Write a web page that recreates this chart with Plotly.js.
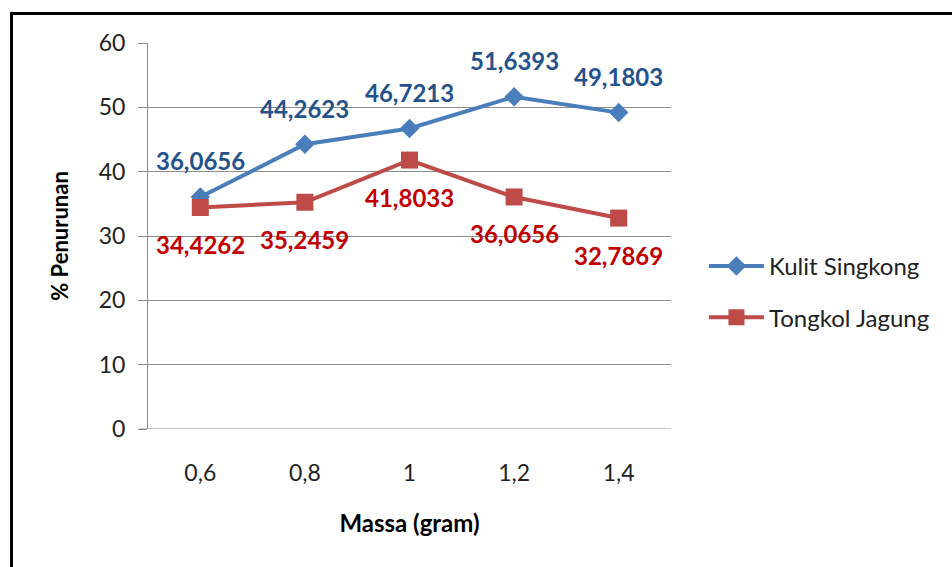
<!DOCTYPE html>
<html>
<head>
<meta charset="utf-8">
<script src="https://cdn.plot.ly/plotly-3.0.1.min.js"></script>
<style>
  html, body { margin: 0; padding: 0; background: #fff; }
  #wrap { position: relative; width: 952px; height: 567px; overflow: hidden; }
  #frame { position: absolute; left: 10px; top: 12px; width: 960px; height: 600px;
           border-left: 3px solid #000; border-top: 3px solid #000; box-sizing: border-box; pointer-events: none; }
  #chart { position: absolute; left: 0; top: 0; width: 952px; height: 567px; }
</style>
</head>
<body>
<div id="wrap">
  <div id="chart"></div>
  <div id="frame"></div>
</div>
<script>
// Mass of adsorbent (gram) and percentage decrease for each material
const massa = ['0,6', '0,8', '1', '1,2', '1,4'];
const kulitSingkong = [36.0656, 44.2623, 46.7213, 51.6393, 49.1803];
const tongkolJagung = [34.4262, 35.2459, 41.8033, 36.0656, 32.7869];
const yTicks = [0, 10, 20, 30, 40, 50, 60];

const FONT = 'Lato, "Open Sans", sans-serif';
const fmt = v => v.toFixed(4).replace('.', ',');

const traces = [
  {
    x: massa, y: kulitSingkong, name: 'Kulit Singkong', type: 'scatter', mode: 'lines+markers',
    line: { color: '#4A7EBB', width: 4 },
    marker: { symbol: 'diamond', size: 15, color: '#4A7EBB' },
    legendgroup: 'a'
  },
  {
    x: massa, y: tongkolJagung, name: 'Tongkol Jagung', type: 'scatter', mode: 'lines+markers',
    line: { color: '#BE4B48', width: 4 },
    marker: { symbol: 'square', size: 17, color: '#BE4B48' },
    legendgroup: 'b'
  }
];

// value labels: blue above the points, red below (x given as category index)
const annotations = [];
massa.forEach((m, i) => {
  annotations.push({
    x: i, y: kulitSingkong[i], text: '<b>' + fmt(kulitSingkong[i]) + '</b>',
    showarrow: false, yshift: 36, xanchor: 'center', yanchor: 'middle',
    font: { family: FONT, size: 24, color: '#24528C' }
  });
  annotations.push({
    x: i, y: tongkolJagung[i], text: '<b>' + fmt(tongkolJagung[i]) + '</b>',
    showarrow: false, yshift: -37, xanchor: 'center', yanchor: 'middle',
    font: { family: FONT, size: 24, color: '#C00000' }
  });
});

const layout = {
  width: 952, height: 567,
  margin: { l: 148, r: 281, t: 43, b: 138 },
  paper_bgcolor: '#fff', plot_bgcolor: '#fff',
  font: { family: FONT, size: 23, color: '#222' },
  showlegend: true,
  legend: {
    x: 1.063, y: 0.355, xanchor: 'left', yanchor: 'middle',
    font: { family: FONT, size: 24, color: '#222' },
    traceorder: 'grouped', tracegroupgap: 17,
    itemwidth: 55,
    bgcolor: 'rgba(0,0,0,0)'
  },
  xaxis: {
    type: 'category', range: [-0.5, 4.5],
    showgrid: false, zeroline: false, showline: false, ticks: '',
    tickfont: { family: FONT, size: 23, color: '#222' },
    ticklabelstandoff: 28,
    title: { text: '<b>Massa (gram)</b>', font: { family: FONT, size: 24, color: '#000' }, standoff: 30 }
  },
  yaxis: {
    range: [0, 60], tickvals: yTicks, ticktext: yTicks.map(String),
    showgrid: true, gridcolor: '#8c8c8c', gridwidth: 1,
    zeroline: false, showline: true, linecolor: '#8c8c8c', linewidth: 1,
    ticks: 'outside', ticklen: 9, tickcolor: '#8c8c8c',
    tickfont: { family: FONT, size: 23, color: '#222' },
    ticklabelstandoff: 8,
    title: { text: '<b>% Penurunan</b>', font: { family: FONT, size: 22, color: '#000' }, standoff: 24 }
  },
  annotations: annotations,
  shapes: [
    { type: 'line', xref: 'paper', yref: 'y', x0: -0.017, x1: 1, y0: 0, y1: 0,
      line: { color: '#8c8c8c', width: 1 } }
  ]
};

Plotly.newPlot('chart', traces, layout, { displayModeBar: false, staticPlot: true });
</script>
</body>
</html>
